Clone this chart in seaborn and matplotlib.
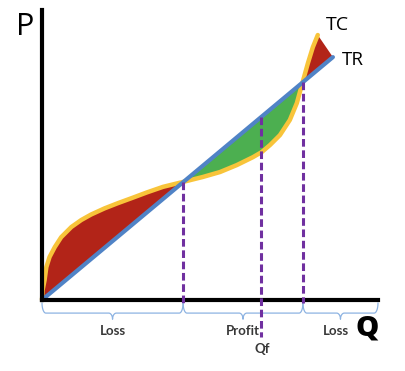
import numpy as np
import matplotlib
matplotlib.use("Agg")
import matplotlib.pyplot as plt
import seaborn as sns

# Valores (Q = quantidade, P = preço)
q_tc = [0, 0.02, 0.09, 0.15, 0.26, 0.44, 0.66, 1.01, 1.35, 1.69, 2.15, 2.61,
        3.13, 3.61, 4.16, 4.85, 5.53, 6.12, 6.70, 7.25, 7.56, 7.84, 8.18,
        8.52, 8.76, 8.97, 9.14, 9.31, 9.48]
p_tc = [0, 0.34, 0.69, 1.13, 1.48, 1.82, 2.16, 2.51, 2.75, 2.94, 3.15, 3.33,
        3.52, 3.70, 3.89, 4.06, 4.23, 4.40, 4.64, 4.91, 5.09, 5.33, 5.67,
        6.19, 6.77, 7.53, 8.14, 8.69, 9.11]
q_tr = [0, 10]
p_tr = [0, 8.35]
break_even = [4.85, 8.97]
q_f = 7.53
q_max = 11.55
p_max = 9.97
region_labels = ["Loss", "Profit", "Loss"]

RED = "#B22418"
GREEN = "#4CAF50"
YELLOW = "#F8C43A"
BLUE = "#5083C6"
PURPLE = "#7030A0"
BRACE = "#8DB3E2"

sns.set_style("white")
plt.rcParams['font.family'] = ['Open Sans', 'DejaVu Sans']

fig = plt.figure(figsize=(4.05, 3.71), dpi=100)
ax = fig.add_axes([42 / 405, 71 / 371, 336 / 405, 290 / 371])  # eixo na origem do gráfico
ax.set_xlim(0, q_max)
ax.set_ylim(0, p_max)

q = np.array(q_tc)
tc = np.array(p_tc)
slope = p_tr[1] / q_tr[1]
tr_q = slope * q

# Áreas de prejuízo / lucro
left = q <= break_even[1]
ax.fill_between(q[left], tc[left], tr_q[left], where=tc[left] >= tr_q[left],
                color=RED, interpolate=True, lw=0)
ax.fill_between(q[left], tc[left], tr_q[left], where=tc[left] <= tr_q[left],
                color=GREEN, interpolate=True, lw=0)
right = q >= break_even[1]
ax.fill(np.r_[q[right], q_tr[-1]], np.r_[tc[right], p_tr[-1]], color=RED, lw=0)

# Curvas TC e TR
sns.lineplot(x=q_tc, y=p_tc, ax=ax, color=YELLOW, lw=3.2, sort=False,
             solid_capstyle="round", solid_joinstyle="round", clip_on=False)
sns.lineplot(x=q_tr, y=p_tr, ax=ax, color=BLUE, lw=3.0, clip_on=False)

# Linhas tracejadas
for qb in break_even:
    ax.plot([qb, qb], [slope * qb, -0.12], color=PURPLE, lw=2.2,
            dashes=(2.5, 1.2), clip_on=False, zorder=5)
ax.plot([q_f, q_f], [slope * q_f, -1.28], color=PURPLE, lw=2.2,
        dashes=(2.5, 1.2), clip_on=False, zorder=5)

# Chaves abaixo do eixo
def draw_brace(ax, x0, x1, top=-0.10, mid=-0.45, bottom=-0.66, r=0.13):
    xc = (x0 + x1) / 2
    t = np.linspace(0, np.pi / 2, 12)
    h = top - mid
    seg1_x = x0 + r * (1 - np.cos(t))
    seg1_y = mid + h * (1 - np.sin(t))
    seg2_x = xc - r + r * np.sin(t)
    seg2_y = mid - (mid - bottom) * (1 - np.cos(t))
    xs = np.r_[seg1_x, seg2_x, (2 * xc - seg2_x)[::-1], (2 * xc - seg1_x)[::-1]]
    ys = np.r_[seg1_y, seg2_y, seg2_y[::-1], seg1_y[::-1]]
    ax.plot(xs, ys, color=BRACE, lw=0.9, clip_on=False)
    return xc

edges = [0] + break_even + [q_max]
for i, lab in enumerate(region_labels):
    xc = draw_brace(ax, edges[i], edges[i + 1])
    if i == 2:
        xc -= 0.15
    ax.text(xc, -1.05, lab, ha="center", va="center", fontsize=9.5,
            fontweight="bold", color="#383838", family=["Lato", "DejaVu Sans"])

ax.text(q_f + 0.05, -1.7, "Qf", ha="center", va="center", fontsize=9.5,
        fontweight="bold", color="#383838", family=["Lato", "DejaVu Sans"])

# Rótulos dos eixos e curvas
ax.text(-0.58, 9.38, "P", ha="center", va="center", fontsize=22,
        fontweight="normal", color="black")
ax.text(10.14, 9.45, "TC", ha="center", va="center", fontsize=14,
        fontweight="normal", color="black")
ax.text(10.68, 8.25, "TR", ha="center", va="center", fontsize=13.5,
        fontweight="normal", color="black")
ax.text(11.17, -0.95, "Q", ha="center", va="center", fontsize=21,
        fontweight="heavy", color="black")

for side in ["top", "right"]:
    ax.spines[side].set_visible(False)
for side in ["left", "bottom"]:
    ax.spines[side].set_linewidth(3)
    ax.spines[side].set_color("black")
ax.set_xticks([])
ax.set_yticks([])
ax.set_xlabel("")
ax.set_ylabel("")

fig.savefig("out.png", dpi=100)
